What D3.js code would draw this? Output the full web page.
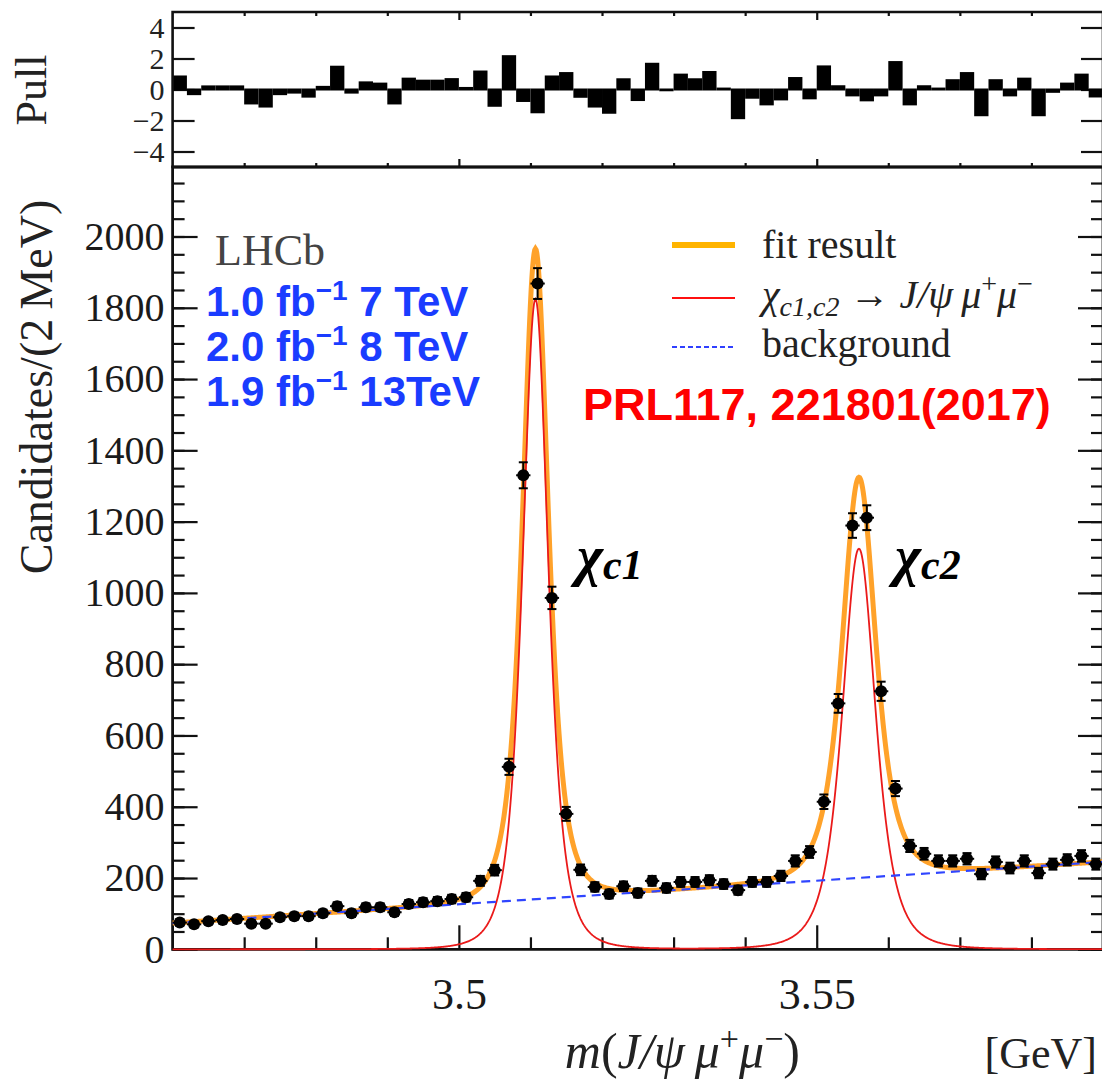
<!DOCTYPE html>
<html>
<head>
<meta charset="utf-8">
<script src="https://cdn.jsdelivr.net/npm/d3@7"></script>
<style>
  body { margin: 0; background: #fff; }
  svg text { font-family: "Liberation Serif", "DejaVu Serif", serif; }
</style>
</head>
<body>
<svg id="chart" width="1102" height="1083"></svg>
<script>
// ---- histogram definition: m(J/psi mu+ mu-) in 2 MeV bins from 3.46 GeV ----
const massLow = 3.46;
const binWidth = 0.002;
const counts = [
  75, 70, 79, 82, 85, 72, 72, 90, 93, 93,
  101, 121, 101, 118, 118, 104, 127, 132, 135, 141,
  146, 192, 222, 512, 1330, 1868, 986, 380, 223, 175,
  155, 177, 158, 192, 172, 189, 189, 194, 183, 166,
  189, 189, 206, 248, 273, 414, 690, 1189, 1211, 724,
  451, 290, 268, 248, 248, 254, 211, 245, 228, 248,
  214, 239, 251, 262, 239
];
const pulls = [
  0.84, -0.30, 0.20, 0.20, 0.20, -0.90, -1.10, -0.30, -0.20, -0.46,
  0.17, 1.47, -0.20, 0.46, 0.38, -0.90, 0.70, 0.57, 0.57, 0.67,
  0.10, 1.16, -1.05, 2.15, -0.74, -1.47, 0.84, 1.06, -0.47, -1.10,
  -1.50, 0.66, -0.68, 1.66, -0.05, 0.96, 0.66, 1.13, 0.06, -1.85,
  -0.53, -0.96, -0.64, 0.74, -0.57, 1.49, 0.21, -0.38, -0.70, -0.38,
  1.77, -0.96, 0.21, 0.06, 0.60, 1.06, -1.66, 0.60, -0.38, 0.70,
  -1.66, -0.15, 0.38, 0.96, -0.45
];

// ---- fit result: two resonances on a linear background ----
const peakNames  = ["χc1", "χc2"];
const peakMass   = [3.5107, 3.5559];   // GeV
const peakHeight = [1825, 1124];       // candidates / 2 MeV at the peak
const peakWidth  = [0.00331, 0.00429]; // GeV, shape scale
const bkgMass    = [3.461, 3.589];
const bkgLevel   = [75, 244];

// ---- axis ticks ----
const xMajorTicks = [3.5, 3.55];
const xMinorTicks = [3.47, 3.48, 3.49, 3.51, 3.52, 3.53, 3.54, 3.56, 3.57, 3.58];
const yMajorTicks = [0, 200, 400, 600, 800, 1000, 1200, 1400, 1600, 1800, 2000];
const pullTicks   = [-4, -2, 0, 2, 4];

const svg = d3.select("#chart");

const left = 172.6, right = 1103;
const pullTop = 12, pullBottom = 167;
const mainTop = 167, mainBottom = 949.3;

const x = d3.scaleLinear().domain([3.46, 3.59]).range([left, right]);
const y = d3.scaleLinear().domain([0, 2195]).range([mainBottom, mainTop]);
const yp = d3.scaleLinear().domain([-5, 5]).range([pullBottom, pullTop]);

const bins = counts.map((c, i) => ({
  lo: massLow + i * binWidth,
  hi: massLow + (i + 1) * binWidth,
  mid: massLow + (i + 0.5) * binWidth,
  n: c,
  pull: pulls[i]
}));

// ---- model curves ----
const bkgLine = d3.scaleLinear().domain(bkgMass).range(bkgLevel);
function peak(k, m) {
  const u = (m - peakMass[k]) / peakWidth[k];
  return peakHeight[k] / Math.pow(1 + u * u, 2);
}
const signal = m => peak(0, m) + peak(1, m);
const total = m => signal(m) + bkgLine(m);
const grid = d3.range(3.46, 3.5901, 0.0001);

// ================= main panel =================
const main = svg.append("g");

// y axis (left), ticks pointing inward
const yMinor = d3.range(0, 2195, 50);
main.append("g").attr("transform", `translate(${left},0)`)
  .call(d3.axisLeft(y).tickValues(yMinor).tickSize(-12).tickFormat(""))
  .call(g => g.select(".domain").remove());
main.append("g").attr("transform", `translate(${left},0)`)
  .call(d3.axisLeft(y).tickValues(yMajorTicks).tickSize(-25).tickPadding(8).tickFormat(d3.format("d")))
  .call(g => g.select(".domain").remove())
  .call(g => g.selectAll("text").attr("font-size", 40).attr("fill", "#1a1a1a")
        .style("font-family", "Liberation Serif"));
// y axis (right)
main.append("g").attr("transform", `translate(${right},0)`)
  .call(d3.axisRight(y).tickValues(yMinor).tickSize(-12).tickFormat(""))
  .call(g => g.select(".domain").remove());
main.append("g").attr("transform", `translate(${right},0)`)
  .call(d3.axisRight(y).tickValues(yMajorTicks).tickSize(-25).tickFormat(""))
  .call(g => g.select(".domain").remove());

// x axis (bottom)
main.append("g").attr("transform", `translate(0,${mainBottom})`)
  .call(d3.axisBottom(x).tickValues(xMinorTicks).tickSize(-12).tickFormat(""))
  .call(g => g.select(".domain").remove());
main.append("g").attr("transform", `translate(0,${mainBottom})`)
  .call(d3.axisBottom(x).tickValues(xMajorTicks).tickSize(-24).tickPadding(28).tickFormat(d3.format("")))
  .call(g => g.select(".domain").remove())
  .call(g => g.selectAll("text").attr("font-size", 44).attr("fill", "#1a1a1a")
        .style("font-family", "Liberation Serif"));

main.selectAll(".tick line").attr("stroke", "#111").attr("stroke-width", 2.2);

// frame
main.append("path")
  .attr("d", `M${left},${mainTop}V${mainBottom}H${right}V${mainTop}Z`)
  .attr("fill", "none").attr("stroke", "#111").attr("stroke-width", 2.8);

// fit components
const lineGen = f => d3.line().x(m => x(m)).y(m => y(f(m)));
main.append("path").datum(grid)
  .attr("d", lineGen(total))
  .attr("fill", "none").attr("stroke", "#ffa22a").attr("stroke-width", 5);
main.append("path").datum(grid)
  .attr("d", lineGen(signal))
  .attr("fill", "none").attr("stroke", "#ea1a1a").attr("stroke-width", 1.8);
main.append("path").datum([3.46, 3.59])
  .attr("d", lineGen(bkgLine))
  .attr("fill", "none").attr("stroke", "#2f45ff").attr("stroke-width", 2.2)
  .attr("stroke-dasharray", "9,6");

// data points with statistical error bars
const pts = main.append("g").attr("stroke", "#000").attr("stroke-width", 2);
bins.forEach(b => {
  const e = Math.sqrt(b.n);
  const cx = x(b.mid), cy = y(b.n);
  pts.append("line").attr("x1", x(b.lo)).attr("x2", x(b.hi)).attr("y1", cy).attr("y2", cy);
  pts.append("line").attr("x1", cx).attr("x2", cx).attr("y1", y(b.n - e)).attr("y2", y(b.n + e));
  pts.append("line").attr("x1", cx - 4.5).attr("x2", cx + 4.5).attr("y1", y(b.n - e)).attr("y2", y(b.n - e));
  pts.append("line").attr("x1", cx - 4.5).attr("x2", cx + 4.5).attr("y1", y(b.n + e)).attr("y2", y(b.n + e));
  pts.append("circle").attr("cx", cx).attr("cy", cy).attr("r", 6).attr("fill", "#000").attr("stroke", "none");
});

// axis titles
svg.append("text")
  .attr("transform", `translate(52,387) rotate(-90)`)
  .attr("text-anchor", "middle").attr("font-size", 46).attr("fill", "#222")
  .text("Candidates/(2\u2009MeV)");

const xt = svg.append("text").attr("x", 800).attr("y", 1068)
  .attr("text-anchor", "end").attr("font-size", 50).attr("fill", "#222");
xt.append("tspan").attr("font-style", "italic").text("m");
xt.append("tspan").text("(");
xt.append("tspan").attr("font-style", "italic").text("J/ψ\u2009μ");
xt.append("tspan").attr("font-size", 34).attr("dy", -18).text("+");
xt.append("tspan").attr("font-style", "italic").attr("dy", 18).text("μ");
xt.append("tspan").attr("font-size", 34).attr("dy", -18).text("−");
xt.append("tspan").attr("dy", 18).text(")");
svg.append("text").attr("x", 1097).attr("y", 1068).attr("text-anchor", "end")
  .attr("font-size", 44).attr("fill", "#222").text("[GeV]");

// ================= pull panel =================
const pull = svg.append("g");
pull.append("g").attr("transform", `translate(${left},0)`)
  .call(d3.axisLeft(yp).tickValues(pullTicks).tickSize(-22).tickPadding(8))
  .call(g => g.select(".domain").remove())
  .call(g => g.selectAll("text").attr("font-size", 30).attr("fill", "#222")
        .style("font-family", "Liberation Serif"));
pull.append("g").attr("transform", `translate(${right},0)`)
  .call(d3.axisRight(yp).tickValues(pullTicks).tickSize(-22).tickFormat(""))
  .call(g => g.select(".domain").remove());
[[pullTop, d3.axisTop], [pullBottom, d3.axisBottom]].forEach(([py, ax]) => {
  pull.append("g").attr("transform", `translate(0,${py})`)
    .call(ax(x).tickValues(xMinorTicks).tickSize(-4).tickFormat(""))
    .call(g => g.select(".domain").remove());
  pull.append("g").attr("transform", `translate(0,${py})`)
    .call(ax(x).tickValues(xMajorTicks).tickSize(-8).tickFormat(""))
    .call(g => g.select(".domain").remove());
});
pull.selectAll(".tick line").attr("stroke", "#111").attr("stroke-width", 2.2);

pull.append("g").selectAll("rect").data(bins).join("rect")
  .attr("x", d => x(d.lo))
  .attr("width", d => x(d.hi) - x(d.lo))
  .attr("y", d => Math.min(yp(d.pull), yp(0)) - 1)
  .attr("height", d => Math.abs(yp(d.pull) - yp(0)) + 2)
  .attr("fill", "#000");

pull.append("path")
  .attr("d", `M${left},${pullTop}V${pullBottom}H${right}V${pullTop}Z`)
  .attr("fill", "none").attr("stroke", "#111").attr("stroke-width", 2.6);

svg.append("text")
  .attr("transform", `translate(46,90) rotate(-90)`)
  .attr("text-anchor", "middle").attr("font-size", 44).attr("fill", "#222")
  .text("Pull");

// ================= annotations =================
svg.append("text").attr("x", 215).attr("y", 265).attr("font-size", 44).attr("fill", "#444").text("LHCb");

const lumi = [
  ["1.0", "7 TeV"],
  ["2.0", "8 TeV"],
  ["1.9", "13TeV"]
];
lumi.forEach((l, i) => {
  const t = svg.append("text").attr("x", 206).attr("y", 316 + i * 45)
    .style("font-family", "Liberation Sans").attr("font-weight", "bold")
    .attr("font-size", 42).attr("fill", "#1a3cff");
  t.append("tspan").text(l[0] + " fb");
  t.append("tspan").attr("font-size", 28).attr("dy", -16).text("−1");
  t.append("tspan").attr("dy", 16).text(" " + l[1]);
});

svg.append("text").attr("x", 583).attr("y", 420)
  .style("font-family", "Liberation Sans").attr("font-weight", "bold")
  .attr("font-size", 45).attr("fill", "#ff0000").text("PRL117, 221801(2017)");

// resonance labels
[[577, 575], [895, 575]].forEach((p, k) => {
  const t = svg.append("text").attr("x", p[0]).attr("y", p[1])
    .attr("font-weight", "bold").attr("font-style", "italic").attr("fill", "#000");
  t.append("tspan").attr("font-size", 56).text(peakNames[k].charAt(0));
  t.append("tspan").attr("font-size", 42).attr("dy", 4).text(peakNames[k].slice(1));
});

// legend
const lg = svg.append("g");
lg.append("line").attr("x1", 672).attr("x2", 735).attr("y1", 245).attr("y2", 245)
  .attr("stroke", "#ffb400").attr("stroke-width", 6);
lg.append("line").attr("x1", 672).attr("x2", 735).attr("y1", 298).attr("y2", 298)
  .attr("stroke", "#ff1010").attr("stroke-width", 2);
lg.append("line").attr("x1", 672).attr("x2", 735).attr("y1", 347).attr("y2", 347)
  .attr("stroke", "#3040ff").attr("stroke-width", 2.2).attr("stroke-dasharray", "5,3");
lg.append("text").attr("x", 762).attr("y", 258).attr("font-size", 40).attr("fill", "#222").text("fit result");
const sig = lg.append("text").attr("x", 762).attr("y", 308).attr("font-size", 40).attr("fill", "#222");
sig.append("tspan").attr("font-style", "italic").text("χ");
sig.append("tspan").attr("font-size", 28).attr("dy", 8).attr("font-style", "italic").text("c1,c2");
sig.append("tspan").attr("dy", -8).text(" → ");
sig.append("tspan").attr("font-style", "italic").text("J/ψ\u2009μ");
sig.append("tspan").attr("font-size", 28).attr("dy", -15).text("+");
sig.append("tspan").attr("font-style", "italic").attr("dy", 15).text("μ");
sig.append("tspan").attr("font-size", 28).attr("dy", -15).text("−");
lg.append("text").attr("x", 762).attr("y", 357).attr("font-size", 40).attr("fill", "#222").text("background");
</script>
</body>
</html>
